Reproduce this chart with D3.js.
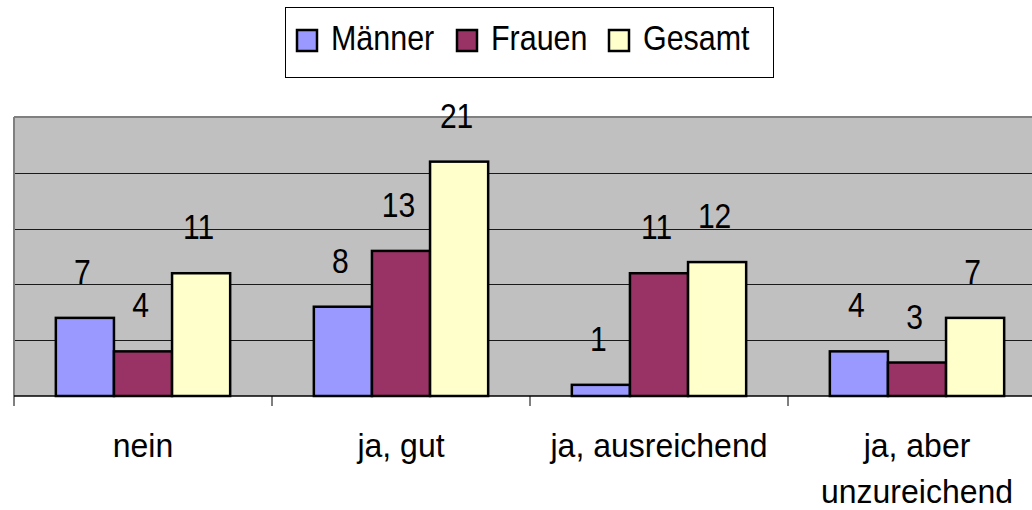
<!DOCTYPE html>
<html>
<head>
<meta charset="utf-8">
<script src="https://cdn.jsdelivr.net/npm/d3@7"></script>
<style>
  body { margin: 0; background: #fff; }
  svg { display: block; font-family: "Liberation Sans", Arial, sans-serif; }
</style>
</head>
<body>
<div id="chart"></div>
<script>
// data
var categories = ["nein", "ja, gut", "ja, ausreichend", "ja, aber unzureichend"];
var seriesNames = ["Männer", "Frauen", "Gesamt"];
var maenner = [7, 8, 1, 4];
var frauen = [4, 13, 11, 3];
var gesamt = [11, 21, 12, 7];
var gridTicks = [5, 10, 15, 20, 25];

var colors = ["#9999ff", "#993366", "#ffffcc"];
var values = [maenner, frauen, gesamt];

var W = 1032, H = 510;
var plotLeft = 14, plotBottom = 396, plotTop = 117;
var step = 258;

var svg = d3.select("#chart").append("svg")
    .attr("width", W)
    .attr("height", H);

// x scales: categories, then series inside each category
var x0 = d3.scaleBand()
    .domain(categories)
    .range([plotLeft, plotLeft + step * categories.length])
    .padding(0);

var x1 = d3.scaleBand()
    .domain(seriesNames)
    .range([0, x0.bandwidth()])
    .paddingInner(0)
    .paddingOuter(0.72);

var y = d3.scaleLinear()
    .domain([0, 25])
    .range([plotBottom, plotTop]);

var plotRight = x0.range()[1];

// the original font is tall and narrow, so squeeze text horizontally
function squeeze(x, yy, sx) {
    return "translate(" + x + "," + yy + ") scale(" + sx + ",1)";
}

// plot background
svg.append("rect")
    .attr("x", plotLeft)
    .attr("y", plotTop)
    .attr("width", plotRight - plotLeft)
    .attr("height", plotBottom - plotTop)
    .attr("fill", "#c0c0c0");

// gridlines
svg.append("g")
    .selectAll("line")
    .data(gridTicks.slice(0, -1))
    .enter().append("line")
    .attr("x1", plotLeft)
    .attr("x2", plotRight)
    .attr("y1", d => Math.round(y(d)) + 0.5)
    .attr("y2", d => Math.round(y(d)) + 0.5)
    .attr("stroke", "#1a1a1a")
    .attr("stroke-width", 1);

// top + left frame of plot area
svg.append("line")
    .attr("x1", plotLeft).attr("x2", plotRight)
    .attr("y1", y(25)).attr("y2", y(25))
    .attr("stroke", "#808080").attr("stroke-width", 2);
svg.append("line")
    .attr("x1", plotLeft).attr("x2", plotLeft)
    .attr("y1", plotTop).attr("y2", plotBottom)
    .attr("stroke", "#808080").attr("stroke-width", 2);

// bars
var groups = svg.append("g")
    .selectAll("g")
    .data(categories)
    .enter().append("g")
    .attr("transform", d => "translate(" + x0(d) + ",0)");

groups.selectAll("rect")
    .data((d, i) => seriesNames.map((s, j) => ({ s: s, v: values[j][i], c: colors[j] })))
    .enter().append("rect")
    .attr("x", d => x1(d.s))
    .attr("y", d => y(d.v))
    .attr("width", x1.bandwidth())
    .attr("height", d => plotBottom - y(d.v))
    .attr("fill", d => d.c)
    .attr("stroke", "#000")
    .attr("stroke-width", 2.5);

// value labels
groups.selectAll("text")
    .data((d, i) => seriesNames.map((s, j) => ({ s: s, v: values[j][i] })))
    .enter().append("text")
    .attr("transform", d => squeeze(x1(d.s) + x1.bandwidth() / 2 - 2.5, y(d.v) - 34, 0.86))
    .attr("text-anchor", "middle")
    .attr("font-size", "35px")
    .attr("fill", "#000")
    .text(d => d.v);

// x axis with category boundary ticks
var xAxis = svg.append("g")
    .attr("transform", "translate(0," + plotBottom + ")");
xAxis.append("line")
    .attr("x1", plotLeft).attr("x2", plotRight)
    .attr("y1", 0).attr("y2", 0)
    .attr("stroke", "#000").attr("stroke-width", 1.5);
xAxis.selectAll(".tk")
    .data(categories)
    .enter().append("line")
    .attr("class", "tk")
    .attr("x1", d => x0(d)).attr("x2", d => x0(d))
    .attr("y1", 0).attr("y2", 10)
    .attr("stroke", "#000").attr("stroke-width", 1);

// category labels (wrapped)
xAxis.selectAll(".cat")
    .data(categories)
    .enter().append("g")
    .attr("class", "cat")
    .attr("transform", d => squeeze(x0(d) + x0.bandwidth() / 2, 61, 0.97))
    .each(function(d) {
        var lines = d === "ja, aber unzureichend" ? ["ja, aber", "unzureichend"] : [d];
        var t = d3.select(this).append("text")
            .attr("text-anchor", "middle")
            .attr("font-size", "33px")
            .attr("fill", "#000");
        lines.forEach(function(l, k) {
            t.append("tspan")
                .attr("x", 0)
                .attr("y", k * 46)
                .text(l);
        });
    });

// legend
var legend = svg.append("g");
legend.append("rect")
    .attr("x", 285.5).attr("y", 7.5)
    .attr("width", 488).attr("height", 70)
    .attr("fill", "#fff")
    .attr("stroke", "#000").attr("stroke-width", 1);

var legX = [297, 457, 609];
seriesNames.forEach(function(s, j) {
    legend.append("rect")
        .attr("x", legX[j]).attr("y", 30)
        .attr("width", 20).attr("height", 21)
        .attr("fill", colors[j])
        .attr("stroke", "#000").attr("stroke-width", 2.5);
    legend.append("text")
        .attr("transform", squeeze(legX[j] + 34, 50, 0.87))
        .attr("font-size", "35px")
        .attr("fill", "#000")
        .text(s);
});
</script>
</body>
</html>
